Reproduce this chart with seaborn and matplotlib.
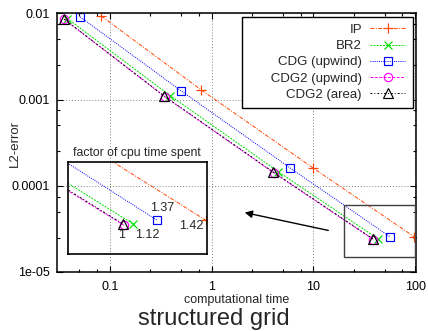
import matplotlib
matplotlib.use('Agg')
import matplotlib.pyplot as plt
import seaborn as sns
import pandas as pd
from matplotlib.patches import Rectangle, FancyArrowPatch
from matplotlib.ticker import FixedLocator, FixedFormatter, LogLocator, NullFormatter

# --- data ---
methods = ['IP', 'BR2', 'CDG (upwind)', 'CDG2 (upwind)', 'CDG2 (area)']

ip_time = [0.082, 0.79, 9.9, 98.0]
ip_err = [0.0093, 0.00129, 0.000161, 2.56e-5]

br2_time = [0.038, 0.39, 4.5, 43.0]
br2_err = [0.0087, 0.00111, 0.000146, 2.43e-5]

cdg_time = [0.0507, 0.50, 5.9, 56.5]
cdg_err = [0.0091, 0.00126, 0.000161, 2.56e-5]

cdg2u_time = [0.0355, 0.345, 4.05, 38.8]
cdg2u_err = [0.0085, 0.00108, 0.000142, 2.38e-5]

cdg2a_time = [0.0353, 0.34, 4.0, 38.5]
cdg2a_err = [0.0086, 0.0011, 0.000145, 2.42e-5]

# factor of cpu time spent (IP, BR2, CDG, CDG2)
cpu_factors = ['1.42', '1.12', '1.37', '1']

xtick_vals = [0.1, 1, 10, 100]
xtick_labels = ['0.1', '1', '10', '100']
ytick_vals = [1e-5, 1e-4, 1e-3, 1e-2]
ytick_labels = ['1e-05', '0.0001', '0.001', '0.01']

frames = []
for name, t, e in zip(methods,
                      [ip_time, br2_time, cdg_time, cdg2u_time, cdg2a_time],
                      [ip_err, br2_err, cdg_err, cdg2u_err, cdg2a_err]):
    frames.append(pd.DataFrame({'method': name, 'time': t, 'err': e}))
df = pd.concat(frames, ignore_index=True)

styles = {
    'IP': dict(color='#ff4500', marker='+', ms=7, ls=(0, (4, 1.5, 1, 1.5))),
    'BR2': dict(color='#00e000', marker='x', ms=6, ls=(0, (2, 1.2))),
    'CDG (upwind)': dict(color='#0000ff', marker='s', ms=5.5, ls=(0, (1, 1.2))),
    'CDG2 (upwind)': dict(color='#ff00ff', marker='o', ms=6, ls=(0, (3, 1.5))),
    'CDG2 (area)': dict(color='black', marker='^', ms=7.5, ls=(0, (2, 2, 1, 2))),
}

sns.set_style('ticks')
plt.rcParams['font.family'] = ['Liberation Sans', 'DejaVu Sans']
plt.rcParams['font.size'] = 9

fig = plt.figure(figsize=(4.28, 3.31), dpi=100)
ax = fig.add_axes([57 / 428, 1 - 272 / 331, (416 - 57) / 428, (272 - 13.3) / 331])


def draw_series(axis, legend):
    for name in methods:
        st = styles[name]
        sub = df[df['method'] == name]
        sns.lineplot(data=sub, x='time', y='err', ax=axis, sort=False,
                     color=st['color'], marker=st['marker'], markersize=st['ms'],
                     markerfacecolor='none', markeredgecolor=st['color'],
                     markeredgewidth=0.85, linestyle=st['ls'], linewidth=0.7,
                     label=name if legend else None, legend=legend)


draw_series(ax, True)

ax.set_xscale('log')
ax.set_yscale('log')
ax.set_xlim(0.0301, 102)
ax.set_ylim(1e-5, 1e-2)
ax.xaxis.set_major_locator(FixedLocator(xtick_vals))
ax.xaxis.set_major_formatter(FixedFormatter(xtick_labels))
ax.yaxis.set_major_locator(FixedLocator(ytick_vals))
ax.yaxis.set_major_formatter(FixedFormatter(ytick_labels))
ax.xaxis.set_minor_locator(LogLocator(base=10, subs=(2.5, 5.0, 7.5)))
ax.yaxis.set_minor_locator(LogLocator(base=10, subs=(2.5, 5.0, 7.5)))
ax.xaxis.set_minor_formatter(NullFormatter())
ax.yaxis.set_minor_formatter(NullFormatter())
ax.tick_params(which='both', direction='in', top=True, right=True, width=0.8, colors='black')
ax.tick_params(which='major', length=4)
ax.tick_params(which='minor', length=2.5)
ax.tick_params(axis='x', which='major', pad=6.5, labelsize=9)
ax.tick_params(axis='y', which='major', pad=5, labelsize=9)
ax.grid(True, which='major', color='#808080', linestyle=(0, (1, 2)), linewidth=0.7)
for sp in ax.spines.values():
    sp.set_linewidth(1.1)
    sp.set_color('black')
ax.set_xlabel('')
ax.set_ylabel('')

# pad the longest label on the left so the right-aligned legend box is as wide as gnuplot's
handles, labels = ax.get_legend_handles_labels()
labels = [('      ' + l) if l == 'CDG2 (upwind)' else l for l in labels]
leg = ax.legend(handles, labels, loc='upper right', markerfirst=False, frameon=True,
                fancybox=False, edgecolor='black', framealpha=1, fontsize=9.5,
                handlelength=2.7, labelspacing=0.3, borderaxespad=0.25,
                handletextpad=0.6, borderpad=0.55)
leg.get_frame().set_linewidth(1.0)

# zoom box in the main plot and arrow to the inset
ax.add_patch(Rectangle((20.0, 1.5e-5), 80.0, 4.5e-5, fill=False,
                       edgecolor='#404040', linewidth=1.0, zorder=5))
fig.add_artist(FancyArrowPatch(
    (331 / 428, 1 - 231 / 331), (242 / 428, 1 - 212 / 331),
    transform=fig.transFigure, arrowstyle='-|>', mutation_scale=11,
    color='black', linewidth=1.0))

# inset
ins = fig.add_axes([68 / 428, 1 - 254 / 331, 139 / 428, 92 / 331])
ins.set_facecolor('none')
draw_series(ins, False)
ins.set_xscale('log')
ins.set_yscale('log')
ins.set_xlim(20.6, 99.5)
ins.set_ylim(1.57e-5, 5.94e-5)
ins.set_xticks([])
ins.set_yticks([])
ins.minorticks_off()
ins.set_xlabel('')
ins.set_ylabel('')
for sp in ins.spines.values():
    sp.set_linewidth(1.2)
    sp.set_color('black')
for lbl, (x, y) in zip(cpu_factors, [(0.885, 0.30), (0.568, 0.207), (0.676, 0.50), (0.388, 0.207)]):
    ins.text(x, y, lbl, transform=ins.transAxes, ha='center', va='center', fontsize=9)
ins.text(0.496, 1.098, 'factor of cpu time spent', transform=ins.transAxes,
         ha='center', va='center', fontsize=8.8)

fig.text(237 / 428, 1 - 302.5 / 331, 'computational time', ha='center', va='baseline', fontsize=9)
fig.text(15 / 428, 1 - 143 / 331, 'L2-error', ha='center', va='center', rotation=90, fontsize=9.5)
fig.text(0.5, 1 - 325 / 331, 'structured grid', ha='center', va='baseline', fontsize=17)

fig.savefig('out.png', dpi=100)
